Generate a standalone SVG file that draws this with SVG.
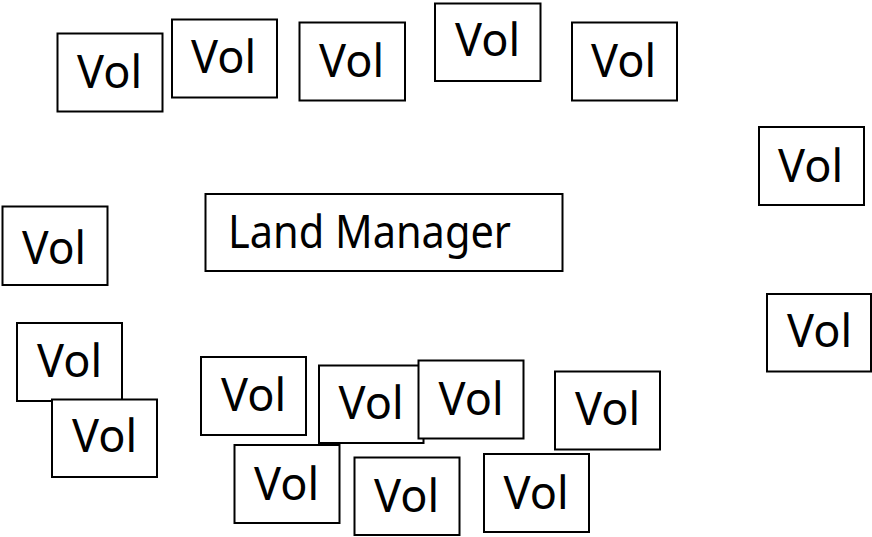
<svg xmlns="http://www.w3.org/2000/svg" width="872" height="537" viewBox="0 0 872 537">
<style>
.box{fill:#fff;stroke:#000;stroke-width:2}
.t{font-family:"Noto Sans","Liberation Sans",sans-serif;font-size:45px;fill:#000}
.lm{font-family:"Noto Sans","Liberation Sans",sans-serif;font-size:46px;fill:#000}
</style>
<rect width="872" height="537" fill="#fff"/>
<g id="connectors"/>
<g id="vol1"><rect class="box" x="57.5" y="33.5" width="105" height="78"/><text class="t" x="77" y="88" textLength="65" lengthAdjust="spacingAndGlyphs">Vol</text></g>
<g id="vol2"><rect class="box" x="172" y="19.5" width="105" height="78"/><text class="t" x="191" y="72.5" textLength="65" lengthAdjust="spacingAndGlyphs">Vol</text></g>
<g id="vol3"><rect class="box" x="299.5" y="22.5" width="105.5" height="78"/><text class="t" x="319" y="77" textLength="65" lengthAdjust="spacingAndGlyphs">Vol</text></g>
<g id="vol4"><rect class="box" x="435" y="3.5" width="105.5" height="77.5"/><text class="t" x="455" y="56" textLength="65" lengthAdjust="spacingAndGlyphs">Vol</text></g>
<g id="vol5"><rect class="box" x="572" y="22.5" width="105" height="78"/><text class="t" x="591" y="77" textLength="65" lengthAdjust="spacingAndGlyphs">Vol</text></g>
<g id="vol6"><rect class="box" x="759" y="127" width="105" height="78"/><text class="t" x="778" y="181.5" textLength="65" lengthAdjust="spacingAndGlyphs">Vol</text></g>
<g id="landManager"><rect class="box" x="205.5" y="194" width="357" height="77"/><text class="lm" x="228" y="247.5" textLength="283" lengthAdjust="spacingAndGlyphs">Land Manager</text></g>
<g id="vol7"><rect class="box" x="2.5" y="206.5" width="105" height="78.5"/><text class="t" x="22" y="263.5" textLength="64" lengthAdjust="spacingAndGlyphs">Vol</text></g>
<g id="vol8"><rect class="box" x="767" y="294" width="104" height="77.5"/><text class="t" x="787" y="346.5" textLength="65" lengthAdjust="spacingAndGlyphs">Vol</text></g>
<g id="vol9"><rect class="box" x="17" y="323" width="105" height="78"/><text class="t" x="37" y="377" textLength="65" lengthAdjust="spacingAndGlyphs">Vol</text></g>
<g id="vol10"><rect class="box" x="52" y="399.5" width="105" height="77.5"/><text class="t" x="72" y="451.5" textLength="65" lengthAdjust="spacingAndGlyphs">Vol</text></g>
<g id="vol11"><rect class="box" x="201" y="357" width="105" height="78"/><text class="t" x="221" y="411" textLength="65" lengthAdjust="spacingAndGlyphs">Vol</text></g>
<g id="vol12"><rect class="box" x="319" y="365.5" width="104.5" height="77.5"/><text class="t" x="338.5" y="419" textLength="65" lengthAdjust="spacingAndGlyphs">Vol</text></g>
<g id="vol13"><rect class="box" x="418.5" y="360.5" width="105" height="78"/><text class="t" x="438.5" y="415" textLength="65" lengthAdjust="spacingAndGlyphs">Vol</text></g>
<g id="vol14"><rect class="box" x="555" y="371.5" width="105" height="78"/><text class="t" x="575" y="425" textLength="65" lengthAdjust="spacingAndGlyphs">Vol</text></g>
<g id="vol15"><rect class="box" x="234.5" y="445" width="105" height="78"/><text class="t" x="254" y="499.5" textLength="65" lengthAdjust="spacingAndGlyphs">Vol</text></g>
<g id="vol16"><rect class="box" x="354.5" y="457.5" width="105" height="77.5"/><text class="t" x="374" y="511.5" textLength="65" lengthAdjust="spacingAndGlyphs">Vol</text></g>
<g id="vol17"><rect class="box" x="484" y="454" width="105" height="78"/><text class="t" x="503.5" y="508.5" textLength="65" lengthAdjust="spacingAndGlyphs">Vol</text></g>
</svg>
